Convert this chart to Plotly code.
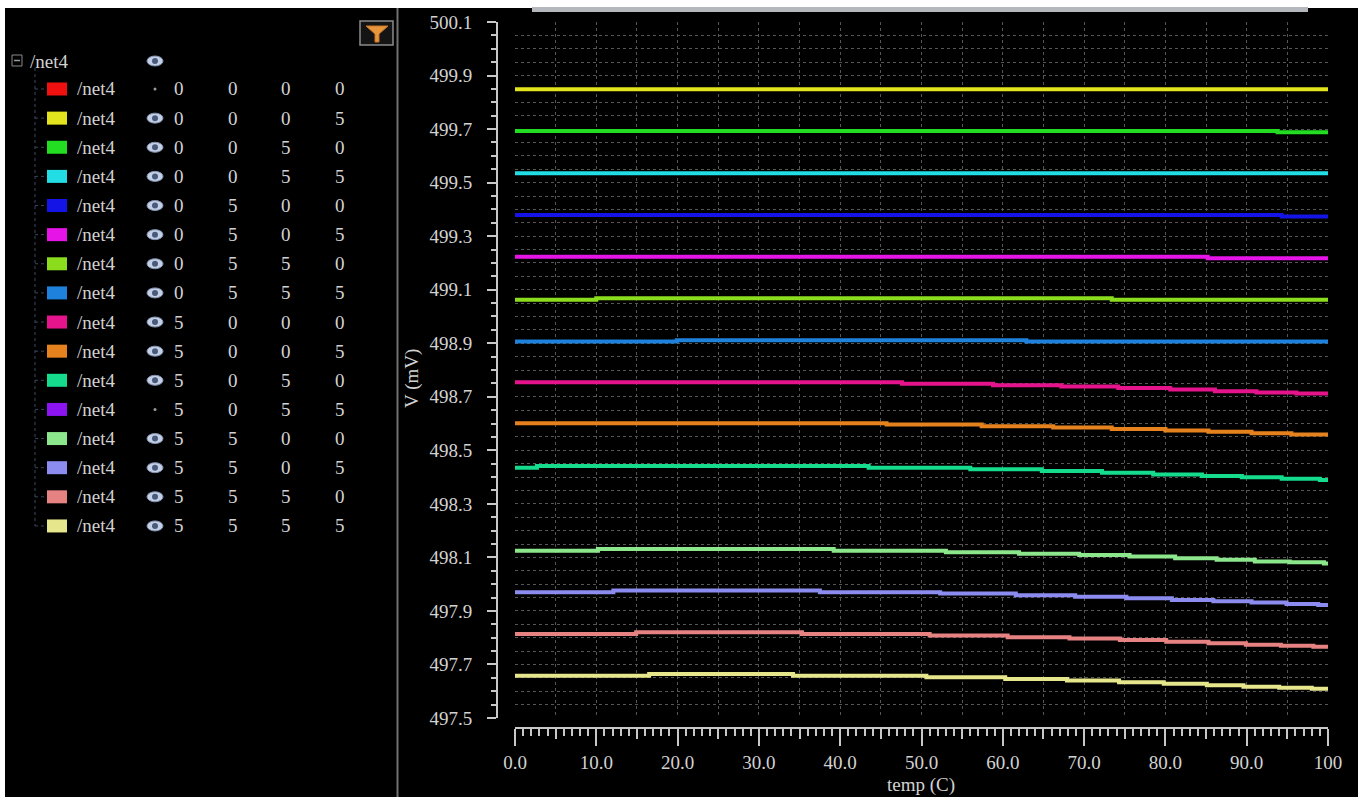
import plotly.graph_objects as go

# ---------------- data ----------------
series_codes = ["0000", "0005", "0050", "0055", "0500", "0505", "0550", "0555",
                "5000", "5005", "5050", "5055", "5500", "5505", "5550", "5555"]
series_visible = [False, True, True, True, True, True, True, True,
                  True, True, True, False, True, True, True, True]
series_colors = ["#f01010", "#e4e41e", "#22dd22", "#22dde4", "#1414e6", "#e614e6",
                 "#8cdc1e", "#1e82dc", "#e6148c", "#e6821e", "#14dc8c", "#8c14f0",
                 "#8ce68c", "#8c8cf0", "#e68282", "#e6e68c"]

# step breakpoints (temp in C) and values (mV)
t_0000 = []
v_0000 = []
t_0005 = [0, 100]
v_0005 = [499.849, 499.849]
t_0050 = [0, 93.8, 100]
v_0050 = [499.693, 499.688, 499.688]
t_0055 = [0, 100]
v_0055 = [499.535, 499.535]
t_0500 = [0, 94.3, 100]
v_0500 = [499.379, 499.373, 499.373]
t_0505 = [0, 85.2, 100]
v_0505 = [499.223, 499.217, 499.217]
t_0550 = [0, 10.0, 73.4, 100]
v_0550 = [499.062, 499.068, 499.062, 499.062]
t_0555 = [0, 19.9, 62.9, 100]
v_0555 = [498.906, 498.911, 498.906, 498.906]
t_5000 = [0, 47.6, 58.8, 67.2, 74.2, 80.6, 86.1, 91.2, 96.1, 100]
v_5000 = [498.754, 498.749, 498.743, 498.738, 498.733, 498.727, 498.721, 498.716, 498.712, 498.712]
t_5005 = [0, 45.7, 57.4, 66.2, 73.4, 80.0, 85.3, 90.6, 95.5, 100]
v_5005 = [498.601, 498.596, 498.590, 498.585, 498.580, 498.574, 498.569, 498.564, 498.559, 498.559]
t_5050 = [0, 2.7, 43.5, 56.0, 64.8, 72.2, 78.5, 84.5, 89.4, 94.3, 99.0, 100]
v_5050 = [498.435, 498.441, 498.435, 498.429, 498.423, 498.416, 498.410, 498.404, 498.399, 498.394, 498.389, 498.389]
t_5055 = []
v_5055 = []
t_5500 = [0, 10.2, 39.2, 53.0, 62.0, 69.4, 75.6, 81.2, 86.3, 91.0, 95.3, 99.5, 100]
v_5500 = [498.125, 498.131, 498.125, 498.119, 498.114, 498.109, 498.103, 498.097, 498.091, 498.085, 498.082, 498.077, 498.077]
t_5505 = [0, 12.1, 37.5, 52.3, 61.6, 68.9, 75.2, 80.8, 85.9, 90.6, 94.9, 98.8, 100]
v_5505 = [497.970, 497.976, 497.970, 497.965, 497.959, 497.953, 497.947, 497.941, 497.936, 497.931, 497.926, 497.922, 497.922]
t_5550 = [0, 14.9, 35.3, 51.0, 60.6, 68.2, 74.4, 80.1, 85.3, 89.9, 94.2, 98.2, 100]
v_5550 = [497.814, 497.820, 497.814, 497.808, 497.802, 497.797, 497.791, 497.785, 497.779, 497.774, 497.770, 497.766, 497.766]
t_5555 = [0, 16.5, 34.2, 50.6, 60.3, 67.9, 74.3, 79.8, 85.1, 89.6, 94.0, 98.0, 100]
v_5555 = [497.658, 497.664, 497.658, 497.652, 497.646, 497.640, 497.634, 497.628, 497.622, 497.617, 497.613, 497.609, 497.609]

series_t = [t_0000, t_0005, t_0050, t_0055, t_0500, t_0505, t_0550, t_0555,
            t_5000, t_5005, t_5050, t_5055, t_5500, t_5505, t_5550, t_5555]
series_v = [v_0000, v_0005, v_0050, v_0055, v_0500, v_0505, v_0550, v_0555,
            v_5000, v_5005, v_5050, v_5055, v_5500, v_5505, v_5550, v_5555]

x_tickvals = [0, 10, 20, 30, 40, 50, 60, 70, 80, 90, 100]
x_ticktext = ["0.0", "10.0", "20.0", "30.0", "40.0", "50.0", "60.0", "70.0", "80.0", "90.0", "100"]
x_midticks = [5, 15, 25, 35, 45, 55, 65, 75, 85, 95]
y_tickvals = [497.5, 497.7, 497.9, 498.1, 498.3, 498.5, 498.7, 498.9, 499.1, 499.3, 499.5, 499.7, 499.9, 500.1]
y_ticktext = ["497.5", "497.7", "497.9", "498.1", "498.3", "498.5", "498.7", "498.9",
              "499.1", "499.3", "499.5", "499.7", "499.9", "500.1"]

# ---------------- layout geometry ----------------
WIDTH, HEIGHT = 1358, 797
ML, MR, MT, MB = 497, 30, 22, 69
PW = WIDTH - ML - MR
PH = HEIGHT - MT - MB


def PX(x):
    return (x - ML) / PW


def PY(y):
    return (HEIGHT - MB - y) / PH


FONT = "Liberation Serif, Times New Roman, serif"
FS = 19
TXT = "#d2d2d2"
AX = "#c8c8c8"
GRID = "#555555"

fig = go.Figure()
for code, vis, col, tt, vv in zip(series_codes, series_visible, series_colors, series_t, series_v):
    if not vis or not tt:
        continue
    fig.add_trace(go.Scatter(x=tt, y=vv, mode="lines", line=dict(color=col, width=4, shape="hv"),
                             name="/net4 " + code, showlegend=False, hoverinfo="skip"))

fig.update_layout(
    width=WIDTH, height=HEIGHT,
    margin=dict(l=ML, r=MR, t=MT, b=MB),
    paper_bgcolor="#000000", plot_bgcolor="#000000",
    showlegend=False,
    font=dict(family=FONT, color=TXT, size=FS),
    xaxis=dict(
        domain=[(515 - ML) / PW, 1], range=[0, 100], anchor="free", position=0,
        tickmode="array", tickvals=x_tickvals, ticktext=x_ticktext,
        ticks="outside", ticklen=17, tickwidth=1.5, tickcolor=AX,
        showline=True, linecolor=AX, linewidth=2,
        showgrid=True, gridcolor=GRID, griddash="dot", gridwidth=1,
        zeroline=False,
        tickfont=dict(family=FONT, color=TXT, size=FS),
        minor=dict(dtick=1, tick0=0, ticks="outside", ticklen=7, tickcolor=AX, tickwidth=1.5, showgrid=False),
    ),
    xaxis2=dict(
        domain=[(515 - ML) / PW, 1], range=[0, 100], anchor="free", position=0, overlaying="x",
        tickmode="array", tickvals=x_midticks, showticklabels=False,
        ticks="outside", ticklen=10, tickwidth=1.5, tickcolor=AX,
        showline=False, showgrid=True, gridcolor=GRID, griddash="dot", gridwidth=1, zeroline=False,
    ),
    yaxis=dict(
        domain=[(HEIGHT - MB - 718) / PH, 1], range=[497.5, 500.1], anchor="free", position=0,
        tickmode="array", tickvals=y_tickvals, ticktext=y_ticktext,
        ticks="outside", ticklen=9, tickwidth=1.5, tickcolor=AX,
        showline=True, linecolor=AX, linewidth=2,
        showgrid=True, gridcolor=GRID, griddash="dot", gridwidth=1,
        zeroline=False, ticklabelstandoff=11,
        tickfont=dict(family=FONT, color=TXT, size=FS),
        minor=dict(dtick=0.05, tick0=497.5, ticks="outside", ticklen=5, tickcolor=AX, tickwidth=1.5,
                   showgrid=True, gridcolor=GRID, griddash="dot", gridwidth=1),
    ),
)

# empty trace so the overlaying x2 axis is drawn
fig.add_trace(go.Scatter(x=[None], y=[None], xaxis="x2", yaxis="y", showlegend=False, hoverinfo="skip"))

shapes = []
annos = []

# axis titles
annos.append(dict(x=PX(921), y=PY(785), xref="paper", yref="paper", text="temp (C)", showarrow=False,
                  xanchor="center", yanchor="middle", font=dict(family=FONT, size=FS, color=TXT)))
annos.append(dict(x=PX(412), y=PY(379), xref="paper", yref="paper", text="V (mV)", showarrow=False,
                  textangle=-90, xanchor="center", yanchor="middle", font=dict(family=FONT, size=FS, color=TXT)))

# frame: white top band and left strip, top scrollbar
shapes.append(dict(type="rect", xref="paper", yref="paper", x0=PX(0), x1=PX(WIDTH), y0=PY(0), y1=PY(8),
                   fillcolor="#ffffff", line=dict(width=0), layer="above"))
shapes.append(dict(type="rect", xref="paper", yref="paper", x0=PX(0), x1=PX(5), y0=PY(0), y1=PY(HEIGHT),
                   fillcolor="#ffffff", line=dict(width=0), layer="above"))
shapes.append(dict(type="rect", xref="paper", yref="paper", x0=PX(532), x1=PX(1308), y0=PY(7), y1=PY(12),
                   fillcolor="#b4b8bc", line=dict(width=0), layer="above"))
# separator
shapes.append(dict(type="line", xref="paper", yref="paper", x0=PX(397.5), x1=PX(397.5), y0=PY(8), y1=PY(HEIGHT),
                   line=dict(color="#707070", width=2), layer="above"))

# filter icon
shapes.append(dict(type="rect", xref="paper", yref="paper", x0=PX(360), x1=PX(393), y0=PY(21), y1=PY(45),
                   fillcolor="#141414", line=dict(color="#8a8a8a", width=1.5)))
fx = [366, 388, 379, 379, 375, 375]
fy = [26, 26, 34, 42, 42, 34]
path = "M " + " L ".join(f"{PX(a)},{PY(b)}" for a, b in zip(fx, fy)) + " Z"
shapes.append(dict(type="path", xref="paper", yref="paper", path=path, fillcolor="#e8963c",
                   line=dict(color="#c8742a", width=1)))

# tree: root
row0 = 89
dy = 29.13
shapes.append(dict(type="rect", xref="paper", yref="paper", x0=PX(12), x1=PX(22), y0=PY(55), y1=PY(66),
                   fillcolor="#000000", line=dict(color="#8a8a8a", width=1)))
shapes.append(dict(type="line", xref="paper", yref="paper", x0=PX(14), x1=PX(20), y0=PY(60.5), y1=PY(60.5),
                   line=dict(color="#9a9a9a", width=1.5)))
annos.append(dict(x=PX(28), y=PY(61), xref="paper", yref="paper", text="/net4", showarrow=False,
                  xanchor="left", yanchor="middle", font=dict(family=FONT, size=FS, color=TXT)))


def eye(cx, cy):
    shapes.append(dict(type="circle", xref="paper", yref="paper", x0=PX(cx - 8), x1=PX(cx + 8),
                       y0=PY(cy - 5), y1=PY(cy + 5), fillcolor="#c4d0e6", line=dict(color="#8090b0", width=1)))
    shapes.append(dict(type="circle", xref="paper", yref="paper", x0=PX(cx - 3), x1=PX(cx + 3),
                       y0=PY(cy - 3), y1=PY(cy + 3), fillcolor="#4a5a7c", line=dict(width=0)))


eye(155, 61)

last_y = row0 + dy * (len(series_codes) - 1)
shapes.append(dict(type="line", xref="paper", yref="paper", x0=PX(35), x1=PX(35), y0=PY(68), y1=PY(last_y),
                   line=dict(color="#3c4660", width=1, dash="dot")))

col_x = [179, 233, 286, 340]
for i, (code, vis, col) in enumerate(zip(series_codes, series_visible, series_colors)):
    y = row0 + dy * i
    shapes.append(dict(type="line", xref="paper", yref="paper", x0=PX(35), x1=PX(45), y0=PY(y), y1=PY(y),
                       line=dict(color="#3c4660", width=1, dash="dot")))
    shapes.append(dict(type="rect", xref="paper", yref="paper", x0=PX(47), x1=PX(67), y0=PY(y - 6.5), y1=PY(y + 6.5),
                       fillcolor=col, line=dict(width=0)))
    annos.append(dict(x=PX(75), y=PY(y), xref="paper", yref="paper", text="/net4", showarrow=False,
                      xanchor="left", yanchor="middle", font=dict(family=FONT, size=FS, color=TXT)))
    if vis:
        eye(155, y)
    else:
        shapes.append(dict(type="circle", xref="paper", yref="paper", x0=PX(153.5), x1=PX(156.5),
                           y0=PY(y - 1.5), y1=PY(y + 1.5), fillcolor="#9a9a9a", line=dict(width=0)))
    for cx, ch in zip(col_x, code):
        annos.append(dict(x=PX(cx), y=PY(y), xref="paper", yref="paper", text=ch, showarrow=False,
                          xanchor="center", yanchor="middle", font=dict(family=FONT, size=FS, color=TXT)))

fig.update_layout(shapes=shapes, annotations=annos)
fig.write_html("out.html", config={"displayModeBar": False},
               post_script="document.body.style.margin='0';document.body.style.overflow='hidden';")
